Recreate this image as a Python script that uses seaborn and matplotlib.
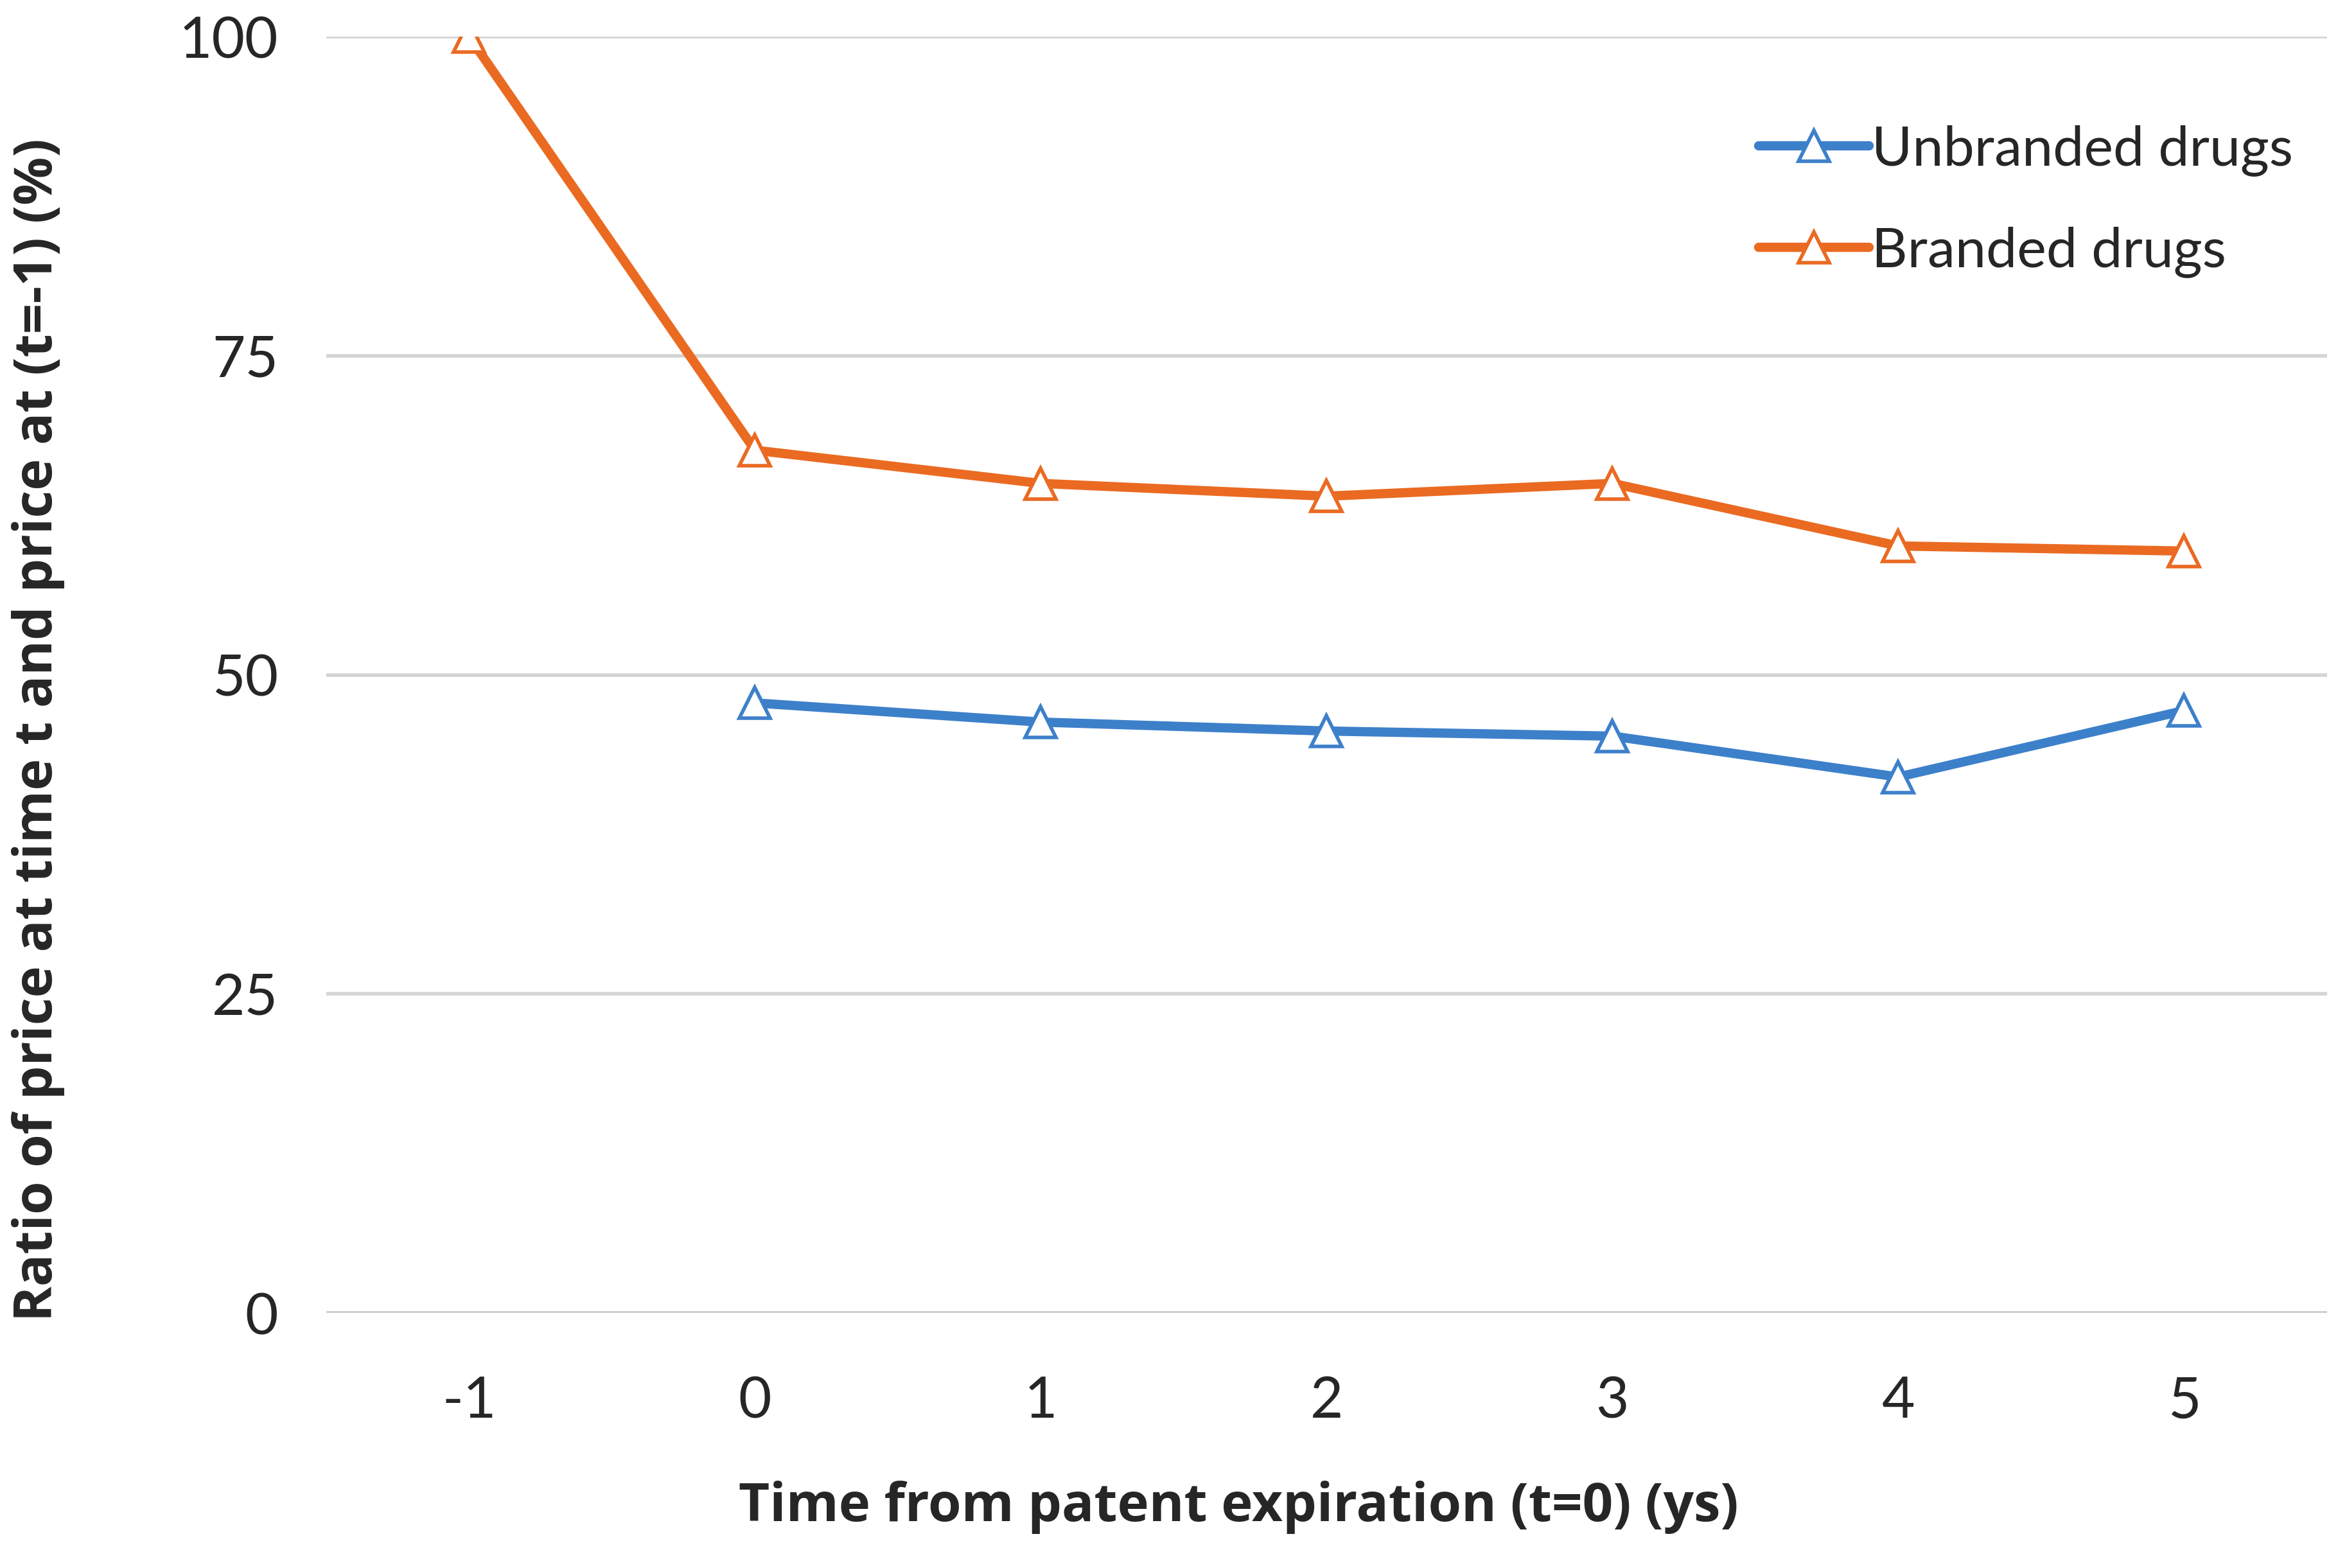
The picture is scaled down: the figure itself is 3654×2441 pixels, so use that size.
# Price ratio after patent expiration - line chart
import pandas as pd
import numpy as np
import matplotlib
matplotlib.use("Agg")
import matplotlib.pyplot as plt
import seaborn as sns

# -------------------- DATA --------------------
years = [-1, 0, 1, 2, 3, 4, 5]
branded = [100.0, 67.6, 65.0, 64.0, 65.0, 60.1, 59.7]
unbranded = [np.nan, 47.8, 46.3, 45.6, 45.2, 42.0, 47.2]
series_names = ["Unbranded drugs", "Branded drugs"]
y_ticks = [0, 25, 50, 75, 100]

df = pd.DataFrame({
    "t": years * 2,
    "ratio": unbranded + branded,
    "group": [series_names[0]] * len(years) + [series_names[1]] * len(years),
}).dropna()

# -------------------- STYLE --------------------
sns.set_style("white")
plt.rcParams["font.family"] = ["Lato", "DejaVu Sans"]
colors = {"Unbranded drugs": "#3D80CA", "Branded drugs": "#EA6A22"}
lw = 5.2

fig = plt.figure(figsize=(18.27, 12.205), dpi=200)
ax = fig.add_axes([0.139, 0.1626, 0.8525, 0.814])

sns.lineplot(
    data=df, x="t", y="ratio", hue="group", hue_order=series_names,
    palette=colors, marker="^", markersize=17, markerfacecolor="white",
    markeredgewidth=2.0, linewidth=lw, ax=ax, legend=False,
)
for line, name in zip(ax.lines, series_names):
    line.set_markeredgecolor(colors[name])

# -------------------- AXES --------------------
ax.set_xlim(-1.5, 5.5)
ax.set_ylim(0, 100)
ax.set_xticks(years)
ax.set_xticklabels([str(v) for v in years])
ax.set_xticks([-1.5, 5.5], minor=True)
ax.set_yticks(y_ticks)
ax.yaxis.grid(True, color="#d4d4d4", linewidth=2.0)
ax.set_axisbelow(True)
for side in ["top", "right", "left", "bottom"]:
    ax.spines[side].set_visible(False)
ax.axhline(0, color="#cfcfcf", linewidth=2.2, zorder=1)

ax.tick_params(axis="y", length=0, labelsize=32, pad=27)
ax.tick_params(axis="x", which="both", direction="inout", length=18,
               width=1.2, color="#cfcfcf", labelsize=32, pad=26)

ax.set_xlabel("Time from patent expiration (t=0) (ys)", fontsize=30,
              fontweight="bold", family=["Open Sans", "DejaVu Sans"])
ax.set_ylabel("Ratio of price at time t and price at (t=-1) (%)", fontsize=30,
              fontweight="bold", family=["Open Sans", "DejaVu Sans"])
ax.xaxis.set_label_coords(0.456, -0.152)
ax.yaxis.set_label_coords(-0.144, 0.457)
ax.xaxis.label.set_va("center")
ax.yaxis.label.set_va("center")

# -------------------- LEGEND --------------------
handles = [plt.Line2D([], [], color=colors[n], linewidth=lw, marker="^",
                      markersize=17, markerfacecolor="white",
                      markeredgecolor=colors[n], markeredgewidth=2.0)
           for n in series_names]
ax.legend(handles, series_names, loc="upper right", bbox_to_anchor=(1.008, 0.97),
          frameon=False, fontsize=31, handlelength=2.0, handletextpad=0.05,
          labelspacing=0.9)

fig.savefig("out.png", dpi=200)
